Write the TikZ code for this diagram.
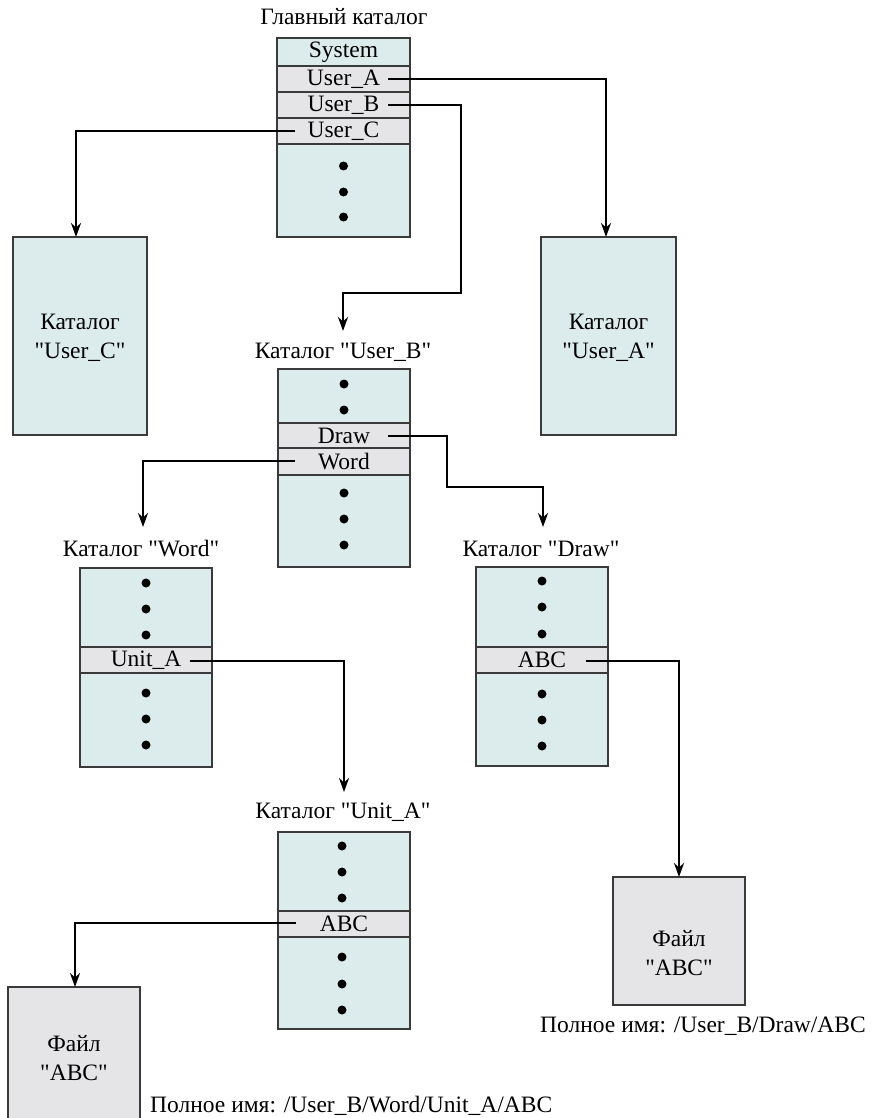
\documentclass[tikz,border=0pt]{standalone}
\usepackage{fontspec}
\setmainfont{Liberation Serif}
\usetikzlibrary{arrows.meta}
\definecolor{dirfill}{HTML}{DCEBEB}
\definecolor{rowfill}{HTML}{E5E5E7}
\definecolor{edgec}{HTML}{3A3A3A}
\newcommand{\qd}{\textquotedbl}
\begin{document}
\begin{tikzpicture}[x=1pt,y=-1pt,
  lbl/.style={font=\fontsize{23.5}{29}\selectfont, inner sep=0, align=center},
  dirbox/.style={draw=edgec, fill=dirfill, line width=1.5pt, inner sep=0, outer sep=0, anchor=north west, minimum width=133pt},
  filebox/.style={draw=edgec, fill=rowfill, line width=1.5pt, inner sep=0, outer sep=0, anchor=north west, minimum width=132pt},
  rowbox/.style={draw=edgec, fill=rowfill, line width=1.5pt, inner sep=0, outer sep=0, anchor=north west, minimum width=133pt, minimum height=26pt, font=\fontsize{23.5}{26}\selectfont},
  dotn/.style={circle, fill=black, inner sep=0, minimum size=9pt},
  conn/.style={line width=2.5pt, -{Stealth[length=14pt,width=10pt]}}]
\useasboundingbox (0,0) rectangle (873,1118);

% ---------- main directory ----------
\node[lbl] (mainT) at (344,17) {Главный каталог};
\node[dirbox, minimum height=199pt] (main) at (277,38) {};
\node[lbl] (sys) at (343.5,52) {System};
\node[rowbox] (uA) at (277,66) {User\_A};
\node[rowbox] (uB) at (277,92) {User\_B};
\node[rowbox] (uC) at (277,118) {User\_C};
\node[dotn] (m1) at (343.5,166) {};
\node[dotn] (m2) at (343.5,192) {};
\node[dotn] (m3) at (343.5,217) {};

% ---------- catalog User_C ----------
\node[dirbox, minimum width=134pt, minimum height=198pt] (catC) at (13,237) {};
\node[lbl] (catCT) at (80,338) {Каталог\\\qd User\_C\qd};

% ---------- catalog User_A ----------
\node[dirbox, minimum width=135pt, minimum height=198pt] (catA) at (541,237) {};
\node[lbl] (catAT) at (608.5,338) {Каталог\\\qd User\_A\qd};

% ---------- catalog User_B ----------
\node[lbl] (catBT) at (343,352) {Каталог \qd User\_B\qd};
\node[dirbox, minimum width=132pt, minimum height=198pt] (catB) at (278,369) {};
\node[dotn] (b1) at (344,384) {};
\node[dotn] (b2) at (344,410) {};
\node[rowbox, minimum width=132pt] (bDraw) at (278,423) {Draw};
\node[rowbox, minimum width=132pt, minimum height=27pt] (bWord) at (278,448) {Word};
\node[dotn] (b3) at (344,493) {};
\node[dotn] (b4) at (344,519) {};
\node[dotn] (b5) at (344,545) {};

% ---------- catalog Word ----------
\node[lbl] (catWT) at (141,549) {Каталог \qd Word\qd};
\node[dirbox, minimum width=132pt, minimum height=199pt] (catW) at (80,568) {};
\node[dotn] (w1) at (146,583) {};
\node[dotn] (w2) at (146,609) {};
\node[dotn] (w3) at (146,635) {};
\node[rowbox, minimum width=132pt] (wUnit) at (80,647) {Unit\_A};
\node[dotn] (w4) at (146,693) {};
\node[dotn] (w5) at (146,719) {};
\node[dotn] (w6) at (146,745) {};

% ---------- catalog Draw ----------
\node[lbl] (catDT) at (541,549) {Каталог \qd Draw\qd};
\node[dirbox, minimum width=132pt, minimum height=199pt] (catD) at (476,567) {};
\node[dotn] (d1) at (542,581) {};
\node[dotn] (d2) at (542,607) {};
\node[dotn] (d3) at (542,634) {};
\node[rowbox, minimum width=132pt] (dABC) at (476,647) {ABC};
\node[dotn] (d4) at (542,694) {};
\node[dotn] (d5) at (542,720) {};
\node[dotn] (d6) at (542,746) {};

% ---------- catalog Unit_A ----------
\node[lbl] (catUT) at (343,812) {Каталог \qd Unit\_A\qd};
\node[dirbox, minimum width=132pt, minimum height=197pt] (catU) at (278,832) {};
\node[dotn] (u1) at (342,846) {};
\node[dotn] (u2) at (342,872) {};
\node[dotn] (u3) at (342,898) {};
\node[rowbox, minimum width=132pt] (uABC) at (278,911) {ABC};
\node[dotn] (u4) at (342,957) {};
\node[dotn] (u5) at (342,984) {};
\node[dotn] (u6) at (342,1010) {};

% ---------- files ----------
\node[filebox, minimum height=140pt] (f1) at (8,987) {};
\node[lbl] (f1T) at (74,1058) {Файл\\\qd ABC\qd};
\node[filebox, minimum width=132pt, minimum height=128pt] (f2) at (613,877) {};
\node[lbl] (f2T) at (679,953) {Файл\\\qd ABC\qd};
\node[lbl, anchor=west] (p1) at (150,1106) {Полное имя: /User\_B/Word/Unit\_A/ABC};
\node[lbl, anchor=west] (p2) at (540,1026) {Полное имя: /User\_B/Draw/ABC};

% ---------- connector points ----------
\coordinate (uAo) at (388,79);
\coordinate (uBo) at (388,105);
\coordinate (uBk1) at (461,293);
\coordinate (uCo) at (295,131);
\coordinate (catCin) at (76,237);
\coordinate (catAin) at (606,237);
\coordinate (catBin) at (343,331);
\coordinate (dro) at (388,436);
\coordinate (drk) at (447,487);
\coordinate (catDin) at (543,527);
\coordinate (wdo) at (295,461);
\coordinate (catWin) at (143,527);
\coordinate (wuo) at (190,661);
\coordinate (catUin) at (344,792);
\coordinate (uao) at (296,923);
\coordinate (f1in) at (75,987);
\coordinate (dao) at (586,661);
\coordinate (f2in) at (679,877);

% ---------- connectors ----------
\draw[conn] (uAo) -| (catAin);
\draw[conn] (uBo) -| (uBk1) -| (catBin);
\draw[conn] (uCo) -| (catCin);
\draw[conn] (dro) -| (drk) -| (catDin);
\draw[conn] (wdo) -| (catWin);
\draw[conn] (wuo) -| (catUin);
\draw[conn] (uao) -| (f1in);
\draw[conn] (dao) -| (f2in);
\end{tikzpicture}
\end{document}
